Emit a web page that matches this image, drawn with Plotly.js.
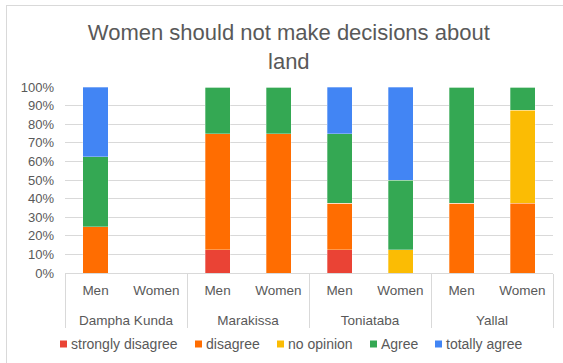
<!DOCTYPE html>
<html>
<head>
<meta charset="utf-8">
<script src="https://cdn.plot.ly/plotly-3.0.1.min.js"></script>
<style>
html,body{margin:0;padding:0;background:#fff;overflow:hidden;width:563px;height:363px;}
#frame{position:absolute;left:6px;top:5px;width:600px;height:400px;border:1px solid #d9d9d9;box-sizing:border-box;}
#chart{position:absolute;left:0;top:0;width:563px;height:363px;}
</style>
</head>
<body>
<div id="frame"></div>
<div id="chart"></div>
<script>
const groups = ["Dampha Kunda","Dampha Kunda","Marakissa","Marakissa","Toniataba","Toniataba","Yallal","Yallal"];
const subs = ["Men","Women","Men","Women","Men","Women","Men","Women"];
const seriesNames = ["strongly disagree","disagree","no opinion","Agree","totally agree"];
const stronglyDisagree = [0,0,12.5,0,12.5,0,0,0];
const disagree = [25,0,62.5,75,25,0,37.5,37.5];
const noOpinion = [0,0,0,0,0,12.5,0,50];
const agree = [37.5,0,25,25,37.5,37.5,62.5,12.5];
const totallyAgree = [37.5,0,0,0,25,50,0,0];
const colors = ["#EA4335","#FF6D01","#FBBC04","#34A853","#4285F4"];
const allValues = [stronglyDisagree,disagree,noOpinion,agree,totallyAgree];

// plot-area geometry (pixels) used to place the custom legend row
const PL = 65, PR = 553, PT = 87, PB = 273;
const legendSquareLeft = [60, 195, 277, 370, 435];
const legendY = 344;
const toPX = px => (px - PL) / (PR - PL);
const toPY = py => (PB - py) / (PB - PT);

const groupLabels = groups.map(g => '<br>' + g);

const traces = allValues.map((vals,i)=>({
  type:'bar',
  name:seriesNames[i],
  x:[groupLabels,subs],
  y:vals,
  marker:{color:colors[i], line:{width:0.6,color:'rgba(255,255,255,0.5)'}},
  hoverinfo:'skip',
  showlegend:false
}));

const shapes = [];
const annotations = [];
seriesNames.forEach((name,i)=>{
  const x0 = legendSquareLeft[i];
  shapes.push({type:'rect', xref:'paper', yref:'paper',
    x0:toPX(x0), x1:toPX(x0+7), y0:toPY(legendY+3.5), y1:toPY(legendY-3.5),
    fillcolor:colors[i], line:{width:0}});
  annotations.push({xref:'paper', yref:'paper', x:toPX(x0+9), y:toPY(legendY),
    xanchor:'left', yanchor:'middle', showarrow:false, text:name,
    font:{size:14,color:'#595959'}});
});

const layout = {
  width:563, height:363,
  paper_bgcolor:'rgba(0,0,0,0)',
  plot_bgcolor:'rgba(0,0,0,0)',
  margin:{l:PL,r:563-PR,t:PT,b:363-PB},
  barmode:'stack',
  bargap:0.59,
  font:{family:'Liberation Sans, Arial, sans-serif', color:'#595959', size:13},
  title:{text:'Women should not make decisions about<br>land', font:{size:22,color:'#595959'}, x:0.513, xref:'container', xanchor:'center', y:0.89, yref:'container', yanchor:'top'},
  xaxis:{type:'multicategory', showgrid:false, showline:true, linecolor:'#d9d9d9', linewidth:1, ticks:'', showdividers:true, dividercolor:'#d9d9d9', dividerwidth:1, tickfont:{size:13.5,color:'#595959'}, ticklabelstandoff:5},
  yaxis:{range:[0,100], dtick:10, ticksuffix:'%', showgrid:true, gridcolor:'#d9d9d9', gridwidth:1, zeroline:false, showline:false, tickfont:{size:13,color:'#595959'}, ticklabelstandoff:10},
  shapes:shapes,
  annotations:annotations,
  showlegend:false
};
Plotly.newPlot('chart', traces, layout, {displayModeBar:false, staticPlot:true});
</script>
</body>
</html>
